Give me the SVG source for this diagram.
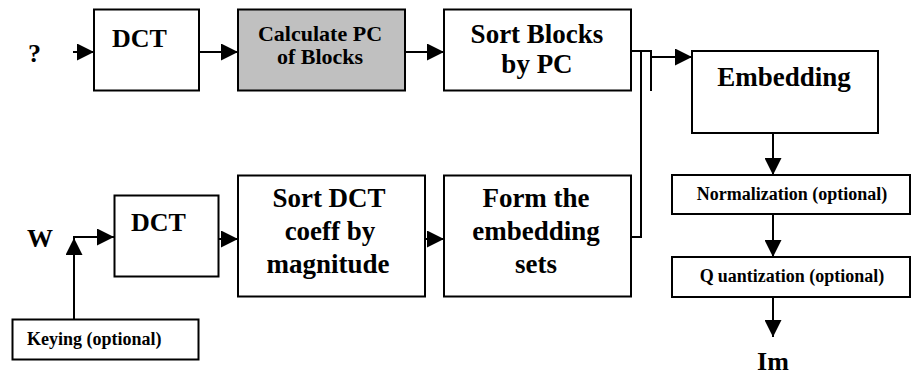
<svg xmlns="http://www.w3.org/2000/svg" width="911" height="377" viewBox="0 0 911 377">
  <style>
    .box { fill: #ffffff; stroke: #000000; stroke-width: 2; }
    .grey { fill: #c0c0c0; }
    .wire { fill: none; stroke: #000000; stroke-width: 2; }
    text { font-weight: bold; fill: #000000; }
    .big { font-size: 27px; }
    .mid { font-size: 22px; }
    .small { font-size: 18px; }
    .c { text-anchor: middle; }
  </style>
  <defs>
    <marker id="arrow" markerUnits="userSpaceOnUse" viewBox="0 0 17 17" refX="17" refY="8.5" markerWidth="17" markerHeight="17" orient="auto">
      <path d="M0,0 L17,8.5 L0,17 Z" fill="#000000"/>
    </marker>
  </defs>

  <rect width="911" height="377" fill="#ffffff"/>

  <!-- connectors -->
  <g id="connectors" class="wire">
    <path d="M73,52 H94" marker-end="url(#arrow)"/>
    <path d="M199,52 H238" marker-end="url(#arrow)"/>
    <path d="M405,52 H444" marker-end="url(#arrow)"/>
    <path d="M631,51 H651 V91"/>
    <path d="M651,57 H692" marker-end="url(#arrow)"/>
    <path d="M631,237 H641 V51"/>
    <path d="M773,133 V175" marker-end="url(#arrow)"/>
    <path d="M773,214 V257" marker-end="url(#arrow)"/>
    <path d="M773,297 V337" marker-end="url(#arrow)"/>
    <path d="M73,237 H114" marker-end="url(#arrow)"/>
    <path d="M74,319 V238" marker-end="url(#arrow)"/>
    <path d="M219,239 H238" marker-end="url(#arrow)"/>
    <path d="M425,239 H444" marker-end="url(#arrow)"/>
  </g>

  <g font-family="Liberation Serif, DejaVu Serif, serif">
    <!-- inputs -->
    <g id="input-image">
      <text x="28" y="62" font-size="26">?</text>
    </g>
    <g id="input-watermark">
      <text x="27" y="247" font-size="26">W</text>
    </g>

    <!-- upper chain -->
    <g id="dct-image">
      <rect class="box" x="94" y="9.5" width="105" height="81"/>
      <text x="112" y="47" font-size="26">DCT</text>
    </g>
    <g id="calc-pc">
      <rect class="box grey" x="238" y="9.5" width="167" height="81"/>
      <text class="mid c" x="320" y="41">Calculate PC</text>
      <text class="mid c" x="320" y="64">of Blocks</text>
    </g>
    <g id="sort-blocks">
      <rect class="box" x="444" y="9.5" width="187" height="81"/>
      <text class="big c" x="537" y="43">Sort Blocks</text>
      <text class="big c" x="537" y="73">by PC</text>
    </g>

    <!-- lower chain -->
    <g id="keying">
      <rect class="box" x="12.5" y="319.5" width="186" height="40"/>
      <text class="small" x="27" y="345">Keying (optional)</text>
    </g>
    <g id="dct-watermark">
      <rect class="box" x="114.5" y="195.5" width="104" height="81"/>
      <text x="131" y="231" font-size="26">DCT</text>
    </g>
    <g id="sort-dct">
      <rect class="box" x="238" y="175.5" width="187" height="121"/>
      <text class="big c" x="329" y="207">Sort DCT</text>
      <text class="big c" x="330" y="240">coeff by</text>
      <text class="big c" x="328" y="273">magnitude</text>
    </g>
    <g id="form-sets">
      <rect class="box" x="444" y="175.5" width="187" height="121"/>
      <text class="big c" x="536" y="207">Form the</text>
      <text class="big c" x="536" y="240">embedding</text>
      <text class="big c" x="536" y="273">sets</text>
    </g>

    <!-- output chain -->
    <g id="embedding">
      <rect class="box" x="692" y="51" width="186" height="82"/>
      <text class="big c" x="784" y="86">Embedding</text>
    </g>
    <g id="normalization">
      <rect class="box" x="672" y="175" width="238" height="39"/>
      <text class="small c" x="792" y="200">Normalization (optional)</text>
    </g>
    <g id="quantization">
      <rect class="box" x="672" y="257" width="238" height="40"/>
      <text class="small c" x="792" y="282">Q<tspan dx="4">uantization (optional)</tspan></text>
    </g>
    <g id="output">
      <text class="c" x="773" y="370" font-size="26">Im</text>
    </g>
  </g>
</svg>
